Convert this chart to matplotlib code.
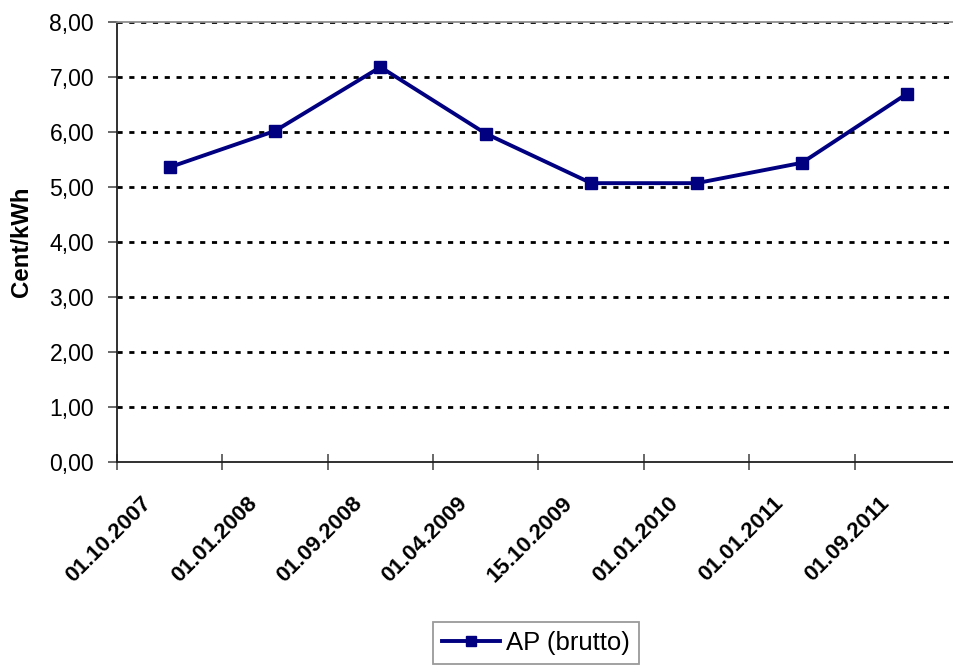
import matplotlib
matplotlib.use("Agg")
import matplotlib.pyplot as plt
from matplotlib.ticker import FixedLocator, FuncFormatter
from matplotlib.transforms import ScaledTranslation

# Price history (Cent/kWh)
dates = ["01.10.2007", "01.01.2008", "01.09.2008", "01.04.2009",
         "15.10.2009", "01.01.2010", "01.01.2011", "01.09.2011"]
ap_brutto = [5.36, 6.02, 7.18, 5.97, 5.07, 5.07, 5.44, 6.70]
y_ticks = [0, 1, 2, 3, 4, 5, 6, 7, 8]

plt.rcParams["font.family"] = ["Liberation Sans", "DejaVu Sans"]
NAVY = "#000080"

fig = plt.figure(figsize=(9.54, 6.66), dpi=100)
W, H = 954, 666
x0, x1, y0, y1 = 117, 960, 22, 462
ax = fig.add_axes([x0 / W, 1 - y1 / H, (x1 - x0) / W, (y1 - y0) / H])

pos = list(range(len(dates)))
ax.plot(pos, ap_brutto, color=NAVY, lw=2.8, marker="s", ms=8.8,
        mfc=NAVY, mec=NAVY, label="AP (brutto)", zorder=3, clip_on=False)

ax.set_xlim(-0.5, len(dates) - 0.5)
ax.set_ylim(0, 8)

# y axis
ax.yaxis.set_major_locator(FixedLocator(y_ticks))
ax.yaxis.set_major_formatter(FuncFormatter(lambda v, p: f"{v:.2f}".replace(".", ",")))
ax.tick_params(axis="y", which="major", direction="out", length=6.5, width=1.1,
               color="#404040", pad=10, labelsize=16.6)
ax.set_ylabel("Cent/kWh", fontsize=17.3, fontweight="bold")
ax.yaxis.set_label_coords(-0.100, 0.5)

# dotted horizontal gridlines
lw_g = 2.0
for v in y_ticks[1:]:
    ax.axhline(v, color="black", lw=lw_g, ls=(0, (3.7 / lw_g, 4.8 / lw_g)), zorder=1)

# x axis: tick marks on category boundaries, labels on category centres
ax.xaxis.set_major_locator(FixedLocator([p - 0.5 for p in pos] + [len(dates) - 0.5]))
ax.xaxis.set_major_formatter(FuncFormatter(lambda v, p: ""))
ax.xaxis.set_minor_locator(FixedLocator(pos))
ax.set_xticklabels(dates, minor=True)
ax.tick_params(axis="x", which="major", direction="inout", length=11, width=1.1,
               color="#404040")
ax.tick_params(axis="x", which="minor", length=0, pad=22, labelsize=16)
shift = ScaledTranslation(-14 / 100, 0, fig.dpi_scale_trans)
for lab in ax.get_xticklabels(minor=True):
    lab.set_rotation(45)
    lab.set_ha("right")
    lab.set_va("top")
    lab.set_fontweight("bold")
    lab.set_transform(lab.get_transform() + shift)

for s in ["left", "bottom"]:
    ax.spines[s].set_color("#202020")
    ax.spines[s].set_linewidth(1.3)
ax.spines["top"].set_color("#909090")
ax.spines["top"].set_linewidth(1.3)
ax.spines["right"].set_visible(False)

leg = fig.legend(loc="upper left", bbox_to_anchor=(433 / W, 1 - 622 / H),
                 borderaxespad=0, fontsize=18.5, frameon=True, fancybox=False,
                 handlelength=2.25, handletextpad=0.25, borderpad=0.35,
                 markerscale=0.75, edgecolor="#808080")
leg.get_frame().set_linewidth(1.3)

fig.savefig("out.png", dpi=100)
